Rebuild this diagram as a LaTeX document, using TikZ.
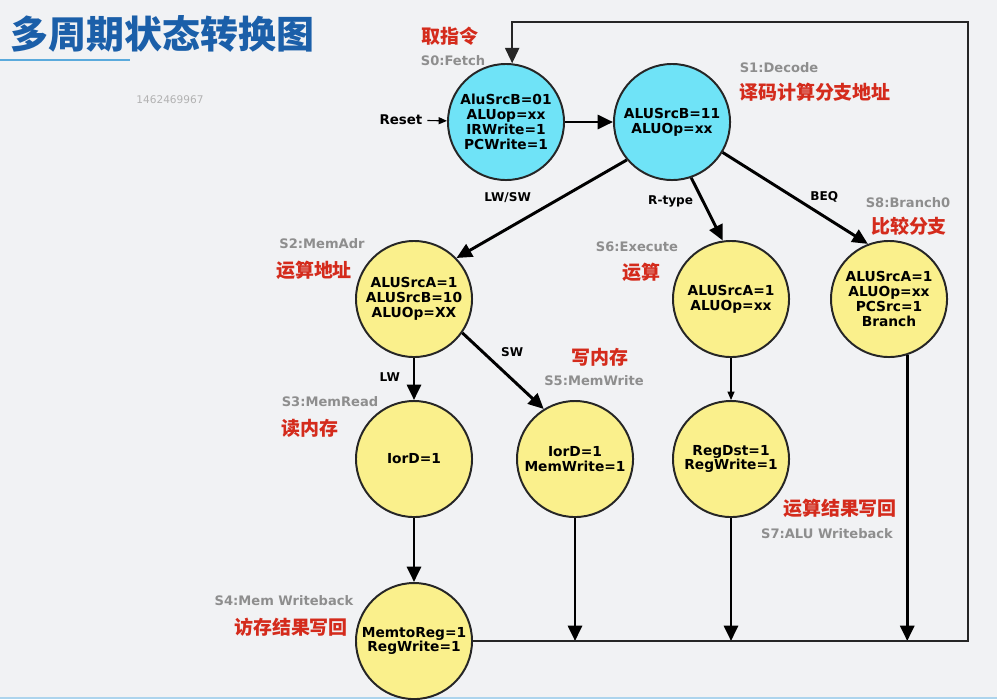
\documentclass[tikz,border=0pt]{standalone}
\usepackage{fontspec}
\setmainfont{DejaVu Sans}
\newfontfamily\cjk{Noto Sans CJK SC}
\usetikzlibrary{arrows.meta,positioning}
\definecolor{cyanc}{HTML}{6FE3F7}
\definecolor{yellowc}{HTML}{FAF08C}
\definecolor{redc}{HTML}{D42B1C}
\definecolor{grayc}{HTML}{8E8E8E}
\definecolor{titlec}{HTML}{1B5FA9}
\definecolor{bgc}{HTML}{F1F2F4}
\definecolor{rulec}{HTML}{5AAADC}

\begin{document}
\begin{tikzpicture}[x=0.025cm, y=-0.025cm,
  st/.style={circle, draw=black!85, line width=1.4pt, minimum size=2.9cm, inner sep=0pt, align=center,
    font=\fontsize{9.8}{10.5}\selectfont\bfseries},
  arr/.style={-{Triangle[length=11pt,width=10pt]}, line width=2.1pt},
  thinarr/.style={-{Triangle[length=6pt,width=5pt]}, line width=0.8pt},
  bus/.style={line width=1.6pt, draw=black!85},
  gtag/.style={text=grayc, font=\fontsize{9.3}{10}\selectfont\bfseries},
  rtag/.style={text=redc, font=\cjk\fontsize{13.5}{14}\selectfont\bfseries},
  elab/.style={font=\fontsize{8.6}{10}\selectfont\bfseries}]

\fill[bgc] (0,0) rectangle (997,699);
\useasboundingbox (0,0) rectangle (997,699);

% heading
\node[anchor=west, text=titlec, font=\cjk\fontsize{27}{27}\selectfont\bfseries] (title) at (6,34) {多周期状态转换图};
\draw[rulec, line width=1.5pt] (0,60) -- (130,60);
\draw[rulec!50, line width=2pt] (0,698) -- (997,698);
\node[text=black!30, font=\fontsize{7.5}{8}\selectfont] (wm) at (170,100) {1462469967};

% states
\node[st, fill=cyanc] (s0) at (506,122) {AluSrcB=01\\ALUop=xx\\IRWrite=1\\PCWrite=1};
\node[st, fill=cyanc, right=1.2cm of s0] (s1) {ALUSrcB=11\\ALUOp=xx};
\node[st, fill=yellowc] (s2) at (414,299) {ALUSrcA=1\\ALUSrcB=10\\ALUOp=XX};
\node[st, fill=yellowc] (s6) at (731,299) {ALUSrcA=1\\ALUOp=xx};
\node[st, fill=yellowc, right=1cm of s6] (s8) {ALUSrcA=1\\ALUOp=xx\\PCSrc=1\\Branch};
\node[st, fill=yellowc, below=1.05cm of s2] (s3) {IorD=1};
\node[st, fill=yellowc, right=1.075cm of s3] (s5) {IorD=1\\MemWrite=1};
\node[st, fill=yellowc, below=1.05cm of s6] (s7) {RegDst=1\\RegWrite=1};
\node[st, fill=yellowc, below=1.6cm of s3] (s4) {MemtoReg=1\\RegWrite=1};

% state names
\node[rtag] (t0) at (450,36) {取指令};
\node[gtag] (g0) at (453,61) {S0:Fetch};
\node[gtag] (g1) at (779,68) {S1:Decode};
\node[rtag] (t1) at (815,92) {译码计算分支地址};
\node[gtag] (g2) at (322,244) {S2:MemAdr};
\node[rtag] (t2) at (314,270) {运算地址};
\node[gtag] (g6) at (637,247) {S6:Execute};
\node[rtag] (t6) at (641,272) {运算};
\node[gtag] (g8) at (908,203) {S8:Branch0};
\node[rtag] (t8) at (909,226) {比较分支};
\node[rtag] (t5) at (600,357) {写内存};
\node[gtag] (g5) at (594,381) {S5:MemWrite};
\node[gtag] (g3) at (330,402) {S3:MemRead};
\node[rtag] (t3) at (310,428) {读内存};
\node[rtag] (t7) at (840,508) {运算结果写回};
\node[gtag] (g7) at (827,534) {S7:ALU Writeback};
\node[gtag] (g4) at (284,601) {S4:Mem Writeback};
\node[rtag] (t4) at (291,627) {访存结果写回};

\node[font=\fontsize{9.5}{10}\selectfont\bfseries] (reset) at (401,120) {Reset};

% transitions
\draw[thinarr] (reset) -- (s0);
\draw[arr] (s0) -- (s1);
\draw[arr] (s1.220) -- node[pos=0.7, above=5mm, elab] {LW/SW} (s2.44);
\draw[arr] (s1.-71) -- node[pos=0.38, left=1mm, elab] {R-type} (s6.98);
\draw[arr] (s1.-31) -- node[pos=0.7, above=2mm, elab] {BEQ} (s8.111);
\draw[arr] (s2) -- node[pos=0.45, left=2mm, elab] {LW} (s3);
\draw[arr] (s2.-35) -- node[pos=0.4, above right, elab] {SW} (s5.122);
\draw[thinarr] (s6) -- (s7);
\draw[arr] (s3) -- (s4);

% back to fetch
\coordinate (busE) at (s4 -| 968,0);
\coordinate (busN) at (968,22);
\draw[arr] (s5) -- (s5 |- s4);
\draw[arr] (s7) -- (s7 |- s4);
\draw[arr] (s8.-72) -- (s8.-72 |- s4);
\draw[bus, -{Triangle[length=11pt,width=10pt]}] (s4.east) -- (busE) -- (busN) -- (s0.84 |- busN) -- (s0.84);
\end{tikzpicture}
\end{document}
